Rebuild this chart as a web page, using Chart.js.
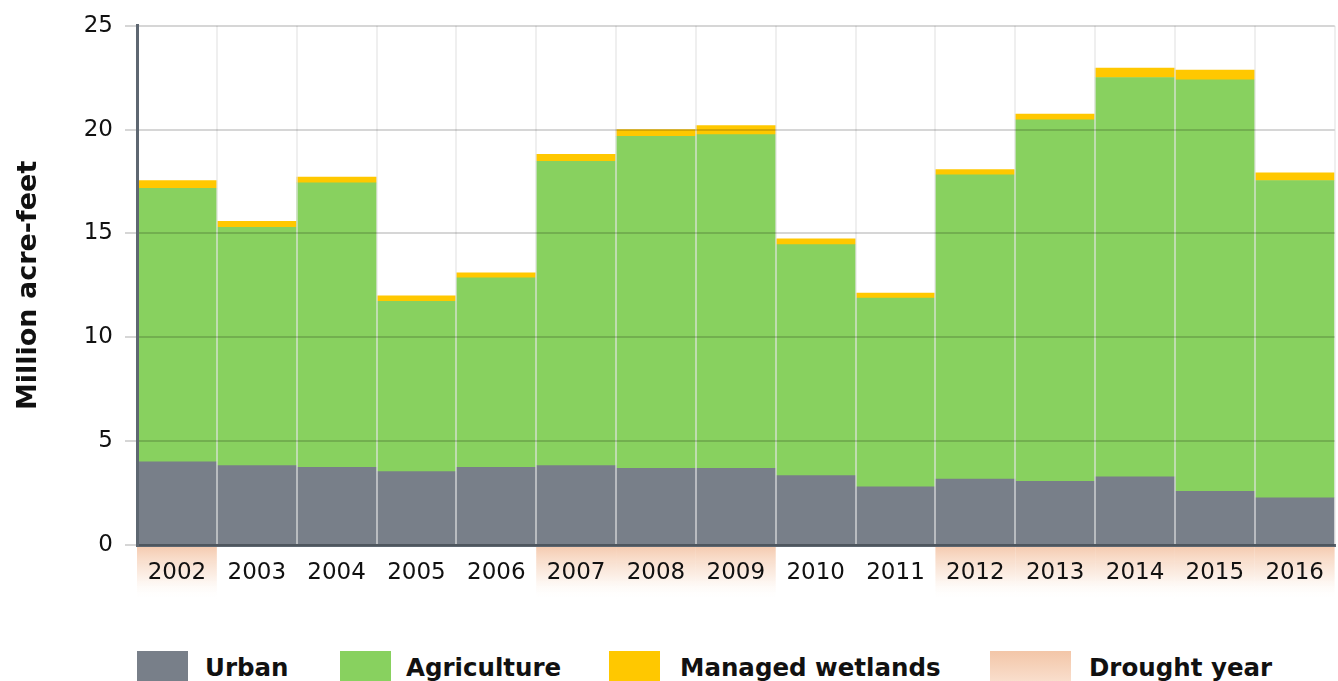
<!DOCTYPE html>
<html>
<head>
<meta charset="utf-8">
<script src="https://cdn.jsdelivr.net/npm/chart.js@4.4.1/dist/chart.umd.min.js"></script>
<style>
  html, body { margin: 0; padding: 0; background: #fff; overflow: hidden; }
  #wrap { position: relative; width: 1338px; height: 681px; }
  #chartBox { position: absolute; left: 0; top: 0; width: 1338px; height: 615px; }
  .item { position: absolute; top: 651px; height: 40px; font: bold 24.5px "DejaVu Sans", sans-serif; color: #111; }
  .box { position: absolute; top: 0; height: 40px; }
  .lbl { position: absolute; top: 2px; white-space: nowrap; }
</style>
</head>
<body>
<div id="wrap">
  <div id="chartBox"><canvas id="waterChart"></canvas></div>
  <div id="legend"></div>
</div>
<script>
const years = ["2002", "2003", "2004", "2005", "2006", "2007", "2008", "2009",
  "2010", "2011", "2012", "2013", "2014", "2015", "2016"];
const urban = [4.0, 3.82, 3.74, 3.53, 3.74, 3.82, 3.69, 3.69, 3.34, 2.8, 3.17, 3.07, 3.28, 2.58, 2.27];
const agriculture = [13.18, 11.48, 13.7, 8.2, 9.13, 14.66, 15.99, 16.07, 11.12, 9.09, 14.65, 17.4, 19.23, 19.82, 15.28];
const wetlands = [0.37, 0.28, 0.27, 0.27, 0.24, 0.33, 0.32, 0.43, 0.28, 0.24, 0.26, 0.28, 0.45, 0.47, 0.37];
const drought = [true, false, false, false, false, true, true, true, false, false, true, true, true, true, true];
const yTicks = [0, 5, 10, 15, 20, 25];

const fontFamily = '"DejaVu Sans", sans-serif';
const colors = {
  urban: "#787f89",
  agriculture: "#88d15f",
  wetlands: "#ffc800",
};

// peach band under the x axis for drought years
const droughtShade = {
  id: "droughtShade",
  beforeDraw(chart) {
    const { ctx, chartArea, scales } = chart;
    const x = scales.x;
    const top = chartArea.bottom;
    const h = 55;
    const half = (x.getPixelForValue(1) - x.getPixelForValue(0)) / 2;
    const grad = ctx.createLinearGradient(0, top, 0, top + h);
    grad.addColorStop(0, "rgba(244,198,168,0.95)");
    grad.addColorStop(0.55, "rgba(249,226,210,0.6)");
    grad.addColorStop(1, "rgba(255,255,255,0)");
    ctx.save();
    ctx.fillStyle = grad;
    drought.forEach((d, i) => {
      if (!d) return;
      const cx = x.getPixelForValue(i);
      ctx.fillRect(cx - half, top, half * 2, h);
    });
    ctx.restore();
  },
};

const ctx = document.getElementById("waterChart").getContext("2d");
new Chart(ctx, {
  type: "bar",
  data: {
    labels: years,
    datasets: [
      { label: "Urban", data: urban, backgroundColor: colors.urban },
      { label: "Agriculture", data: agriculture, backgroundColor: colors.agriculture },
      { label: "Managed wetlands", data: wetlands, backgroundColor: colors.wetlands },
    ],
  },
  plugins: [droughtShade],
  options: {
    responsive: true,
    maintainAspectRatio: false,
    animation: false,
    datasets: { bar: { barPercentage: 1, categoryPercentage: 1, borderWidth: 0 } },
    layout: { padding: { top: 19, right: 1, left: 0, bottom: 0 } },
    plugins: {
      legend: { display: false },
      tooltip: { enabled: false },
    },
    scales: {
      x: {
        stacked: true,
        grid: { color: "rgba(228,228,228,0.6)", lineWidth: 2, drawTicks: false, offset: true, z: 1 },
        border: { color: "#5e6771", width: 3, z: 1 },
        ticks: { color: "#111", padding: 14, font: { family: fontFamily, size: 23 } },
        afterFit: (s) => { s.height = 70; },
      },
      y: {
        stacked: true,
        min: 0,
        max: 25,
        afterBuildTicks: (s) => { s.ticks = yTicks.map((v) => ({ value: v })); },
        grid: { color: "rgba(0,0,0,0.16)", lineWidth: 2, tickLength: 12, z: 1 },
        border: { color: "#5e6771", width: 3, z: 1 },
        ticks: { color: "#111", padding: 12, font: { family: fontFamily, size: 23 } },
        title: {
          display: true,
          text: "Million acre-feet",
          color: "#111",
          font: { family: fontFamily, size: 27, weight: "bold" },
          padding: { top: 13, bottom: 0 },
        },
        afterFit: (s) => { s.width = 137; },
      },
    },
  },
});

// html legend below the chart
const legendItems = [
  { text: "Urban", fill: colors.urban, left: 137, boxW: 51, gap: 17 },
  { text: "Agriculture", fill: colors.agriculture, left: 340, boxW: 51, gap: 15 },
  { text: "Managed wetlands", fill: colors.wetlands, left: 609, boxW: 51, gap: 20 },
  { text: "Drought year", fill: "linear-gradient(#f3c6a8, #fbe6d8)", left: 990, boxW: 81, gap: 18 },
];
const legend = document.getElementById("legend");
legendItems.forEach((it) => {
  const el = document.createElement("div");
  el.className = "item";
  el.style.left = it.left + "px";
  el.innerHTML = '<div class="box" style="left:0;width:' + it.boxW + "px;background:" + it.fill +
    '"></div><div class="lbl" style="left:' + (it.boxW + it.gap) + 'px">' + it.text + "</div>";
  legend.appendChild(el);
});
</script>
</body>
</html>
